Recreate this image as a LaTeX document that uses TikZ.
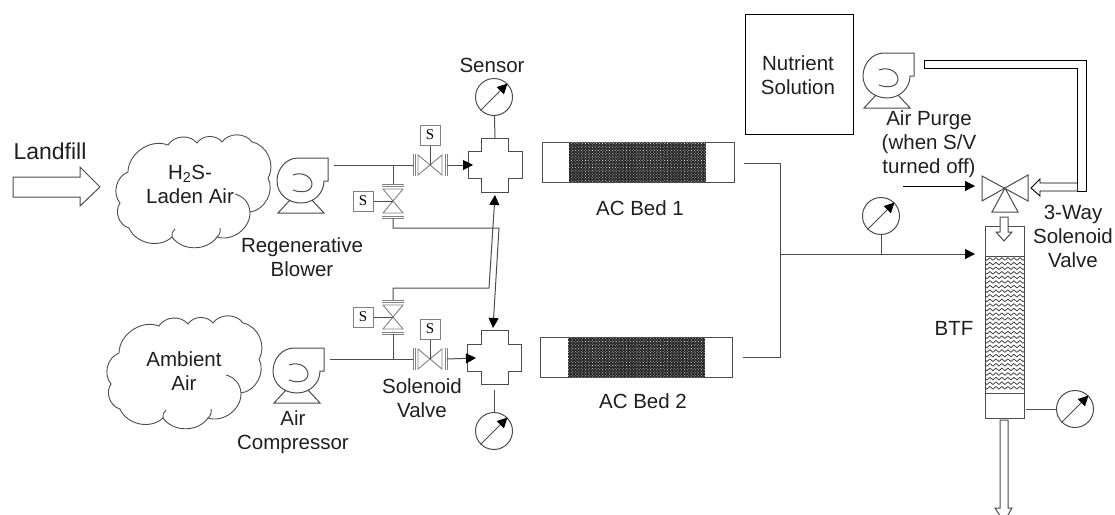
\documentclass[tikz,border=0pt]{standalone}
\usepackage{fontspec}
\setmainfont{Liberation Sans}
\newfontfamily\valvefont{Liberation Serif}
\usetikzlibrary{decorations.pathmorphing,arrows.meta,patterns.meta}
\definecolor{pipe-gray}{gray}{0.3}
\definecolor{flange-gray}{gray}{0.5}
\definecolor{label-gray}{gray}{0.12}
\tikzstyle{pipe}=[draw=pipe-gray,line width=1pt]
\tikzstyle{arrowpipe}=[pipe,-{Triangle[length=10pt,width=10pt,color=black]}]
\tikzstyle{flange}=[draw=flange-gray,line width=0.9pt]
\tikzstyle{hollow}=[draw=pipe-gray,line width=1pt,fill=white]
\tikzstyle{cloudline}=[draw=pipe-gray,line width=0.9pt]
\tikzstyle{lab}=[text=label-gray,align=center,font=\fontsize{20.5}{24}\selectfont,inner sep=0pt]
\tikzstyle{dial}=[circle,draw=pipe-gray,line width=1pt,minimum size=37pt,inner sep=0pt]
\tikzstyle{sbox}=[rectangle,draw=flange-gray,line width=1pt,minimum size=20pt,inner sep=0pt,font=\valvefont\fontsize{15}{15}\selectfont]
\tikzstyle{bedbox}=[rectangle,draw=pipe-gray,line width=1pt,minimum width=192pt,minimum height=40pt,inner sep=0pt]
\tikzstyle{bedfill}=[rectangle,minimum width=137pt,minimum height=39pt,inner sep=0pt,preaction={fill=black!85},pattern={Dots[radius=0.45pt,distance=2pt,angle=45]},pattern color=white]
\tikzstyle{packing}=[decorate,decoration={snake,segment length=6pt,amplitude=1.3pt},draw=black!80,line width=0.7pt]
\newcommand{\drawcloud}[2]{ % shifted copies of one outline
	\begin{scope}[shift={(#1,#2)}]
	\draw[cloudline] (128,172) foreach \a/\b in {120/203,129/228,172/237,217/237,250/212,268/178,252/142,222/142,197/143,168/145,128/172} { to[bend right=55] (\a,\b) };
	\draw[cloudline] (235,194) to[bend left=35] (250,212);
	\draw[cloudline] (172,237) to[bend left=30] (175,229);
	\draw[cloudline] (217,237) to[bend right=30] (220,228);
	\end{scope}
}
\newcommand{\drawblower}[3]{ % name, centre of the casing
	\begin{scope}[shift={(#2,#3)}]
	\coordinate (#1) at (0,0);
	\draw[pipe] (32,-25) -- (2,-25) .. controls (-10,-25) and (-19,-14) .. (-19,-2) .. controls (-19,11) and (-8,20) .. (5,20) .. controls (18,20) and (28,10) .. (28,-2) -- (32,-2) -- cycle;
	\draw[pipe] (-3,-8) .. controls (8,-12) and (16,-5) .. (16,1) .. controls (16,8) and (7,11) .. (-3,7);
	\draw[pipe] (-6,17) -- (-18,30) -- (28,30) -- (16,17);
	\end{scope}
}
\newcommand{\drawvalveH}[3]{ % name, centre; solenoid box on top
	\begin{scope}[shift={(#2,#3)}]
	\draw[flange] (-12,-10) -- (12,10) -- (12,-10) -- (-12,10) -- cycle;
	\draw[flange] (-17,-11) -- (-17,11) (-15,-11) -- (-15,11);
	\draw[flange] (17,-11) -- (17,11) (15,-11) -- (15,11);
	\coordinate (#1-in) at (-17,0);
	\coordinate (#1-out) at (17,0);
	\coordinate (#1-mid) at (0,0);
	\node[sbox] (#1-s) at (0,-30) {S};
	\draw[pipe] (#1-s) -- (#1-mid);
	\end{scope}
}
\newcommand{\drawvalveV}[3]{ % name, centre; solenoid box to the left
	\begin{scope}[shift={(#2,#3)}]
	\draw[flange] (-10,-12) -- (10,12) -- (-10,12) -- (10,-12) -- cycle;
	\draw[flange] (-11,-17) -- (11,-17) (-11,-15) -- (11,-15);
	\draw[flange] (-11,17) -- (11,17) (-11,15) -- (11,15);
	\coordinate (#1-in) at (0,-17);
	\coordinate (#1-out) at (0,17);
	\coordinate (#1-mid) at (0,0);
	\node[sbox] (#1-s) at (-30,0) {S};
	\draw[pipe] (#1-s) -- (#1-mid);
	\end{scope}
}
\newcommand{\drawcross}[3]{
	\begin{scope}[shift={(#2,#3)}]
	\draw[pipe] (-13.5,-27) -- (13.5,-27) -- (13.5,-13.5) -- (27,-13.5) -- (27,13.5) -- (13.5,13.5) -- (13.5,27) -- (-13.5,27) -- (-13.5,13.5) -- (-27,13.5) -- (-27,-13.5) -- (-13.5,-13.5) -- cycle;
	\coordinate (#1-top) at (0,-27);
	\end{scope}
}
\newcommand{\drawdial}[3]{
	\node[dial] (#1) at (#2,#3) {};
	\draw[arrowpipe] (#1.225) -- (#1.45);
}
\newcommand{\drawbed}[3]{
	\node[bedbox] (#1) at (#2,#3) {};
	\node[bedfill] (#1-fill) at (#2-0.5,#3) {};
}
\begin{document}
\begin{tikzpicture}[x=1pt,y=-1pt]
	\useasboundingbox (0,0) rectangle (1115,514);
	% feed side
	\node[lab,font=\fontsize{23}{27}\selectfont] (landfill) at (50,151) {Landfill};
	\draw[hollow] (13,177) -- (80,177) -- (80,167) -- (100,187) -- (80,206) -- (80,197) -- (13,197) -- cycle;
	\drawcloud{0}{0}
	\drawcloud{-9}{181}
	\node[lab] (ladenair) at (190,184) {H\textsubscript{2}S-\\Laden Air};
	\node[lab] (ambientair) at (184,371) {Ambient\\Air};
	\drawblower{blowerA}{296}{183}
	\drawblower{blowerB}{292}{373}
	\drawblower{blowerC}{882}{78}
	\node[lab] (regen) at (302,257) {Regenerative\\Blower};
	\node[lab] (compressor) at (293,432) {Air\\Compressor};
	\node[lab] (solenoid) at (422,398) {Solenoid\\Valve};
	\node[lab] (sensor) at (492,65) {Sensor};
	% valves and crosses
	\drawvalveH{valveA}{430}{165}
	\drawvalveH{valveB}{430}{359}
	\drawvalveV{valveC}{393}{201}
	\drawvalveV{valveD}{393}{317}
	\drawcross{crossA}{495}{165}
	\drawcross{crossB}{494.5}{357.5}
	\drawdial{dialA}{494}{97}
	\drawdial{dialB}{494}{431}
	\coordinate (portA) at (334,165);
	\coordinate (portB) at (330,359);
	\coordinate (junA) at (393,165);
	\coordinate (junB) at (393,359);
	\coordinate (tipA) at (473,165);
	\coordinate (tipB) at (476,358);
	\coordinate (tipC) at (495,195);
	\coordinate (tipD) at (493,328);
	\coordinate (bendC) at (489,288);
	\coordinate (bendD) at (499,228);
	\coordinate (dropB) at (494,390);
	\draw[pipe] (portA) -- (valveA-in);
	\draw[pipe] (portB) -- (valveB-in);
	\draw[arrowpipe] (valveA-out) -- (tipA);
	\draw[arrowpipe] (valveB-out) -- (tipB);
	\draw[pipe] (junA) -- (valveC-in);
	\draw[pipe] (junB) -- (valveD-out);
	\draw[arrowpipe] (valveD-in) |- (bendC) -- (tipC);
	\draw[arrowpipe] (valveC-out) |- (bendD) -- (tipD);
	\draw[pipe] (dialA) -- (crossA-top);
	\draw[pipe] (dialB) -- (dropB);
	% beds
	\drawbed{bedA}{638}{162}
	\drawbed{bedB}{636.5}{357.5}
	\node[lab] (bedAlabel) at (640,208) {AC Bed 1};
	\node[lab] (bedBlabel) at (643,401) {AC Bed 2};
	\coordinate (outA) at (744,163);
	\coordinate (outB) at (743,357);
	\coordinate (mergeA) at (780,163);
	\coordinate (mergeB) at (780,357);
	\coordinate (mainstart) at (780,254);
	\coordinate (mainend) at (975,254);
	\coordinate (maintee) at (881,254);
	\draw[pipe] (outA) -- (mergeA) -- (mergeB) -- (outB);
	\draw[arrowpipe] (mainstart) -- (mainend);
	\drawdial{dialC}{881}{216}
	\draw[pipe] (dialC) -- (maintee);
	% nutrient and purge
	\node[rectangle,draw=black,line width=0.9pt,minimum width=108pt,minimum height=120pt,inner sep=0pt] (nutrient) at (799,74) {};
	\node[lab] (nutrienttext) at (798,75) {Nutrient\\Solution};
	\draw[draw=black,line width=0.9pt] (924,60) -- (1086,60) -- (1086,191) -- (1077,191) -- (1077,68) -- (924,68) -- cycle;
	\draw[hollow,draw=black,line width=0.9pt] (1077,183) -- (1040,183) -- (1040,179) -- (1031,188) -- (1040,196) -- (1040,191) -- (1077,191);
	\node[lab] (purge) at (929,144) {Air Purge\\(when S/V\\turned off)};
	\node[lab] (threeway) at (1073,236) {3-Way\\Solenoid\\Valve};
	\coordinate (valveE-mid) at (1005,188);
	\draw[pipe] (982,176) -- (1028,201) -- (1028,175) -- (982,201) -- cycle;
	\draw[pipe] (valveE-mid) -- (992,212) -- (1018,212) -- cycle;
	\coordinate (purgestart) at (903,186);
	\coordinate (purgeend) at (975,186);
	\draw[arrowpipe,draw=black] (purgestart) -- (purgeend);
	% BTF column
	\node[rectangle,draw=pipe-gray,line width=1pt,minimum width=39pt,minimum height=192pt,inner sep=0pt] (btf) at (1004.5,322) {};
	\node[lab] (btflabel) at (954,328) {BTF};
	\begin{scope}
	\clip (985,256) rectangle (1024,393);
	\foreach \y in {259,263.6,...,392} {
		\draw[packing] (982,\y) -- (1027,\y);
	}
	\end{scope}
	\draw[pipe] (985,256) -- (1024,256) (985,393) -- (1024,393);
	\draw[hollow] (1000,217) -- (1008,217) -- (1008,232) -- (1012,232) -- (1004,241) -- (996,232) -- (1000,232) -- cycle;
	\drawdial{dialD}{1075}{409}
	\coordinate (btftap) at (1026,409);
	\draw[pipe] (dialD) -- (btftap);
	\begin{scope}
	\clip (990,415) rectangle (1020,514);
	\draw[pipe] (995,508) -- (1000,508) -- (1000,420) -- (1008,420) -- (1008,508) -- (1012,508) -- (1004,522) -- cycle;
	\end{scope}
\end{tikzpicture}
\end{document}
